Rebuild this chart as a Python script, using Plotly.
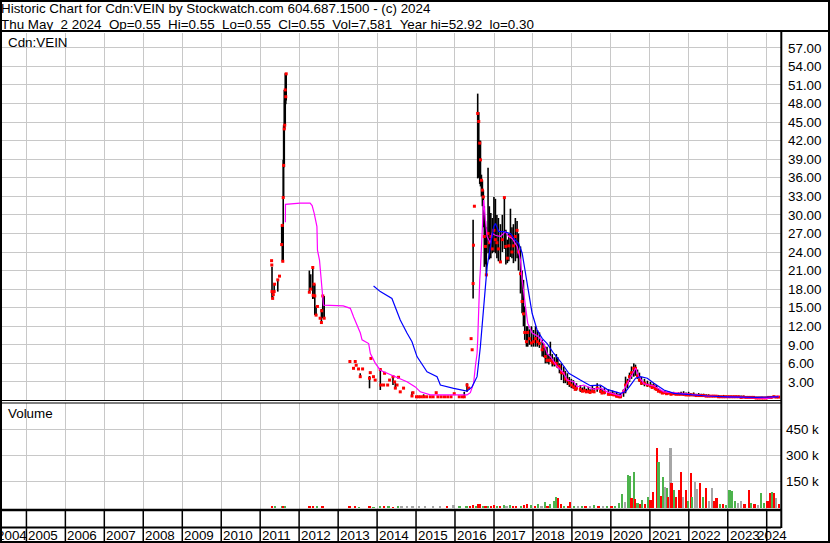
import plotly.graph_objects as go

# ---------------- data ----------------
years = list(range(2004, 2025))
year_labels = [str(y) for y in years]

header_line1 = "Historic Chart for Cdn:VEIN by Stockwatch.com 604.687.1500 - (c) 2024"
header_line2 = "Thu May  2 2024  Op=0.55  Hi=0.55  Lo=0.55  Cl=0.55  Vol=7,581  Year hi=52.92  lo=0.30"
symbol_label = "Cdn:VEIN"
volume_label = "Volume"

# price bars: date, high, low, close
bar_dates = [
    "2011-04-18", "2011-04-20", "2011-04-22", "2011-04-28", "2011-05-04", "2011-05-12", "2011-05-16", "2011-06-15", "2011-07-01",
    "2011-07-22", "2011-07-27", "2011-08-01", "2011-08-05", "2011-08-09", "2011-08-15", "2011-08-19", "2011-08-24", "2011-08-29", "2011-09-02",
    "2012-04-06", "2012-04-19", "2012-05-08", "2012-05-12", "2012-05-20", "2012-05-27", "2012-06-08", "2012-06-21", "2012-07-16", "2012-07-28", "2012-07-31", "2012-08-10", "2012-08-23",
    "2013-04-21", "2013-05-25", "2013-06-10", "2013-06-19", "2013-07-11", "2013-07-27", "2013-08-18", "2013-10-22", "2013-10-29", "2013-11-04", "2013-11-28", "2013-12-14",
    "2014-01-31", "2014-02-05", "2014-03-03", "2014-03-12", "2014-04-10", "2014-04-28", "2014-05-30", "2014-06-14", "2014-06-21", "2014-07-07", "2014-07-21", "2014-08-06", "2014-09-06", "2014-11-24", "2014-12-03",
    "2015-01-05", "2015-01-25", "2015-02-15", "2015-03-13", "2015-04-10", "2015-05-15", "2015-06-10", "2015-07-09", "2015-07-25", "2015-08-25", "2015-09-25", "2015-10-25", "2015-11-25", "2015-12-25",
    "2016-02-10", "2016-03-10", "2016-03-28", "2016-04-23", "2016-05-08", "2016-05-31", "2016-06-10", "2016-06-19", "2016-06-22", "2016-07-01",
    "2016-08-01", "2016-08-11", "2016-08-20", "2016-08-27", "2016-09-05", "2016-09-14", "2016-09-23", "2016-10-02", "2016-10-12", "2016-10-21",
    "2016-11-06", "2016-11-18", "2016-12-02", "2016-12-16", "2016-12-31",
    "2017-01-14", "2017-01-28", "2017-02-11", "2017-03-02", "2017-03-20", "2017-04-08", "2017-04-22", "2017-05-06", "2017-05-20", "2017-06-04",
    "2017-06-18", "2017-07-02", "2017-07-20", "2017-08-05", "2017-08-18", "2017-09-06", "2017-09-21", "2017-10-04", "2017-10-16", "2017-11-01",
    "2017-11-13", "2017-11-29", "2017-12-18",
    "2018-01-06", "2018-01-25", "2018-02-12", "2018-03-03", "2018-03-28", "2018-04-12", "2018-04-27", "2018-05-13", "2018-05-30", "2018-06-13",
    "2018-07-01", "2018-07-20", "2018-08-08", "2018-08-22", "2018-09-06", "2018-09-24", "2018-10-16", "2018-11-01", "2018-11-20", "2018-12-08", "2018-12-27",
    "2019-01-15", "2019-02-13", "2019-03-21", "2019-04-28", "2019-06-04", "2019-07-12", "2019-08-26", "2019-09-26", "2019-11-02", "2019-12-09",
    "2020-01-16", "2020-02-23", "2020-04-01", "2020-04-29", "2020-05-18", "2020-06-06", "2020-06-24", "2020-07-13", "2020-08-03", "2020-08-19",
    "2020-09-07", "2020-09-25", "2020-10-14", "2020-11-11", "2020-12-09",
    "2021-01-07", "2021-02-05", "2021-03-05", "2021-04-11", "2021-05-19", "2021-06-25", "2021-08-11", "2021-09-27", "2021-11-13", "2021-12-30",
    "2022-02-15", "2022-04-03", "2022-05-19", "2022-07-05", "2022-08-21", "2022-10-07", "2022-11-23",
    "2023-01-09", "2023-02-25", "2023-04-13", "2023-05-29", "2023-07-15", "2023-08-31", "2023-10-17", "2023-12-03",
    "2024-01-19", "2024-03-07", "2024-04-22",
    # extra sessions filling the low-price years
    "2019-02-01", "2019-04-10", "2019-05-15", "2019-06-20", "2019-07-28", "2019-10-10", "2019-12-25", "2020-01-30", "2020-03-05", "2020-03-20",
    "2021-01-22", "2021-02-20", "2021-03-22", "2021-04-28", "2021-06-06", "2021-07-18", "2021-09-03", "2021-10-20", "2021-12-06", "2022-01-20",
    "2022-03-10", "2022-04-27", "2022-06-12", "2022-07-29", "2022-09-14", "2022-10-30", "2022-12-16", "2023-02-01", "2023-03-20", "2023-05-06",
    "2023-06-22", "2023-08-08", "2023-09-24", "2023-11-10", "2023-12-27", "2024-02-12", "2024-03-30",
]
bar_high = [
    22.6, 21.9, 21.6, 17.6, 17.1, 18.8, 18.8, 19.5, 20.1,
    28.3, 28.3, 25.0, 38.9, 44.5, 50.2, 48.5, 52.9, 52.9, 52.9,
    21.0, 20.4, 21.6, 17.0, 18.8, 18.8, 15.2, 15.2, 13.3, 14.8, 14.5, 16.9, 16.9,
    6.3, 5.2, 6.3, 5.7, 5.1, 4.4, 5.1, 3.96, 4.5, 6.8, 3.85, 3.3,
    5.2, 2.5, 2.5, 4.4, 2.5, 3.3, 3.85, 3.0, 2.8, 2.5, 3.75, 1.4, 2.0, 1.4, 1.26,
    0.6, 0.6, 0.6, 1.0, 0.6, 0.6, 0.6, 1.26, 0.6, 0.6, 0.6, 0.6, 0.6, 1.1,
    0.6, 0.6, 1.4, 2.8, 2.0, 10.0, 8.2, 29.2, 25.1, 31.4,
    49.6, 46.6, 42.0, 42.0, 36.5, 35.6, 34.0, 31.4, 29.0, 28.0,
    37.6, 31.4, 30.3, 29.5, 32.9,
    32.6, 30.0, 29.5, 28.5, 30.0, 32.9, 27.6, 26.0, 27.0, 31.0,
    28.0, 28.5, 29.5, 29.0, 27.0, 24.9, 21.0, 19.5, 15.2, 12.0,
    12.0, 11.5, 12.0,
    11.4, 12.0, 11.4, 11.0, 9.8, 9.2, 8.7, 8.7, 7.5, 9.5,
    7.5, 7.0, 7.5, 7.0, 6.0, 6.0, 5.5, 4.8, 4.4, 3.8, 3.5,
    3.3, 2.8, 2.5, 2.3, 2.2, 2.5, 2.8, 2.4, 2.0, 1.8,
    1.6, 1.4, 1.2, 1.8, 3.85, 3.5, 4.5, 5.5, 6.0, 5.8,
    5.0, 4.5, 3.8, 3.5, 3.2,
    3.0, 2.8, 2.5, 1.7, 1.6, 1.5, 1.4, 1.3, 1.5, 1.4,
    1.3, 1.2, 1.1, 1.0, 0.9, 0.9, 0.9,
    0.8, 0.8, 0.8, 0.8, 0.7, 0.7, 0.6, 0.6,
    0.7, 0.8, 0.7,
    2.6, 2.1, 1.9, 1.8, 2.0, 1.9, 1.4, 1.3, 1.1, 1.0,
    2.6, 2.4, 2.0, 1.5, 1.4, 1.3, 1.2, 1.4, 1.3, 1.2,
    1.1, 1.1, 1.0, 0.9, 0.9, 0.8, 0.8, 0.8, 0.8, 0.8,
    0.7, 0.7, 0.6, 0.6, 0.6, 0.7, 0.7,
]
bar_low = [
    22.6, 21.9, 16.5, 16.5, 17.1, 17.6, 18.8, 17.6, 20.1,
    25.0, 22.5, 22.5, 22.5, 32.8, 37.7, 43.9, 44.5, 47.9, 48.5,
    17.5, 17.9, 16.4, 16.5, 16.9, 13.8, 13.8, 15.2, 13.3, 12.6, 14.5, 13.3, 13.3,
    6.3, 5.2, 6.3, 5.7, 5.1, 3.85, 5.1, 1.97, 4.5, 6.8, 3.85, 3.3,
    1.7, 2.5, 2.5, 4.4, 2.5, 3.3, 2.5, 3.0, 2.0, 2.5, 3.75, 1.4, 2.0, 0.6, 1.26,
    0.6, 0.6, 0.6, 0.6, 0.6, 0.6, 0.6, 1.26, 0.6, 0.6, 0.6, 0.6, 0.6, 1.1,
    0.6, 0.6, 0.6, 1.4, 2.0, 10.0, 8.2, 16.5, 25.1, 31.4,
    35.9, 36.0, 35.0, 34.6, 33.0, 31.4, 28.0, 21.6, 22.0, 20.3,
    23.8, 22.8, 23.0, 23.8, 24.0,
    23.8, 23.0, 22.5, 22.4, 24.0, 24.5, 22.0, 22.2, 22.5, 23.2,
    23.0, 22.2, 22.5, 23.0, 21.0, 17.3, 14.1, 12.0, 9.8, 8.7,
    8.7, 9.0, 8.7,
    8.7, 8.7, 8.7, 8.5, 7.1, 7.0, 6.0, 6.0, 5.8, 6.3,
    5.5, 5.5, 5.5, 5.2, 4.4, 3.3, 2.8, 2.8, 2.5, 2.2, 2.0,
    1.9, 1.6, 1.4, 1.4, 1.2, 1.3, 1.4, 1.2, 1.0, 0.9,
    0.8, 0.6, 0.5, 0.6, 1.16, 2.0, 3.0, 3.5, 3.85, 4.0,
    3.5, 3.0, 2.5, 2.3, 2.2,
    2.2, 2.0, 1.6, 1.2, 1.1, 1.0, 0.9, 0.9, 0.8, 0.8,
    0.7, 0.7, 0.7, 0.6, 0.6, 0.5, 0.5,
    0.5, 0.5, 0.5, 0.45, 0.4, 0.4, 0.3, 0.3,
    0.35, 0.45, 0.5,
    1.7, 1.4, 1.3, 1.2, 1.3, 1.1, 0.9, 0.8, 0.6, 0.5,
    2.0, 1.8, 1.4, 1.1, 1.0, 0.9, 0.9, 0.9, 0.8, 0.8,
    0.7, 0.7, 0.6, 0.6, 0.6, 0.5, 0.5, 0.5, 0.5, 0.45,
    0.4, 0.4, 0.35, 0.3, 0.3, 0.4, 0.45,
]
bar_close = [
    22.6, 21.9, 17.6, 16.5, 17.1, 17.6, 18.8, 19.5, 20.1,
    25.2, 28.3, 22.5, 32.8, 38.0, 43.9, 44.5, 50.2, 49.1, 52.8,
    17.5, 18.0, 21.5, 17.0, 18.8, 16.9, 13.8, 15.2, 13.3, 12.6, 14.5, 16.9, 13.3,
    6.3, 5.2, 6.3, 5.7, 5.1, 3.85, 5.1, 3.6, 4.5, 6.8, 3.85, 3.3,
    5.0, 2.5, 2.5, 4.4, 2.5, 3.3, 3.85, 3.0, 2.0, 2.5, 3.75, 1.4, 2.0, 0.73, 1.26,
    0.6, 0.6, 0.6, 0.6, 0.6, 0.6, 0.6, 1.26, 0.6, 0.6, 0.6, 0.6, 0.6, 1.1,
    0.6, 0.6, 0.6, 2.5, 2.0, 10.0, 8.2, 18.9, 25.1, 31.4,
    46.4, 45.1, 41.6, 38.9, 35.6, 34.0, 32.9, 26.5, 24.9, 20.3,
    27.0, 25.5, 26.5, 24.5, 27.5,
    26.0, 25.5, 24.5, 22.4, 26.0, 32.8, 24.9, 23.0, 25.0, 26.5,
    24.0, 25.0, 26.5, 27.5, 24.0, 20.5, 16.0, 14.0, 11.0, 9.5,
    11.0, 10.0, 9.3,
    9.5, 10.0, 9.5, 9.2, 8.2, 8.7, 7.1, 6.5, 6.5, 6.5,
    6.2, 6.0, 6.0, 5.5, 5.5, 4.5, 4.4, 3.5, 3.3, 2.8, 2.5,
    2.2, 2.0, 1.8, 1.6, 1.5, 1.5, 2.0, 1.5, 1.3, 1.0,
    1.0, 0.7, 0.6, 1.4, 2.5, 3.0, 3.85, 4.5, 5.2, 5.2,
    4.0, 3.3, 2.8, 2.8, 2.5,
    2.34, 2.3, 1.8, 1.4, 1.26, 1.2, 1.1, 1.0, 1.0, 0.9,
    0.9, 0.8, 0.8, 0.7, 0.7, 0.6, 0.6,
    0.6, 0.6, 0.6, 0.55, 0.5, 0.5, 0.4, 0.4,
    0.5, 0.6, 0.55,
    1.8, 1.5, 1.4, 1.3, 1.4, 1.2, 1.0, 0.9, 0.7, 0.6,
    2.1, 1.9, 1.5, 1.2, 1.1, 1.0, 1.0, 1.0, 0.9, 0.9,
    0.8, 0.8, 0.7, 0.7, 0.7, 0.6, 0.6, 0.6, 0.6, 0.5,
    0.5, 0.5, 0.4, 0.4, 0.4, 0.5, 0.55,
]

# short moving average (magenta)
ma_short_dates = [
    "2011-08-25", "2011-08-26", "2012-01-10", "2012-04-13", "2012-05-02", "2012-05-21", "2012-06-16", "2012-06-21",
    "2012-07-10", "2012-07-23", "2012-08-04", "2012-08-16", "2013-02-18", "2013-04-25", "2013-05-26", "2013-06-27",
    "2013-07-28", "2013-08-13", "2013-10-14", "2013-10-30", "2013-12-16", "2014-01-31", "2014-04-04", "2014-07-07",
    "2014-10-08", "2014-12-25", "2015-02-10", "2015-05-15", "2016-04-23", "2016-05-24", "2016-06-09", "2016-06-24",
    "2016-07-10", "2016-07-26", "2016-08-01", "2016-08-10", "2016-08-20", "2016-08-26", "2016-09-11", "2016-09-26",
    "2016-10-12", "2016-10-28", "2016-11-28", "2016-12-14", "2017-01-14", "2017-03-02", "2017-04-18", "2017-05-19",
    "2017-06-20", "2017-08-06", "2017-09-06", "2017-09-22", "2017-10-23", "2017-11-13", "2017-12-24", "2018-02-24",
    "2018-04-12", "2018-05-14", "2018-06-14", "2018-08-16", "2018-10-17", "2018-11-17", "2019-01-18", "2019-02-19",
    "2019-04-22", "2019-07-25", "2019-09-26", "2019-11-27", "2020-04-01", "2020-05-18", "2020-07-04", "2020-08-20",
    "2020-09-20", "2020-11-06", "2021-02-08", "2021-05-13", "2021-10-16", "2022-06-23", "2023-05-01", "2024-01-07",
    "2024-04-25",
]
ma_short_vals = [
    28.8, 31.7, 31.9, 31.9, 31.5, 30.3, 28.1, 24.3,
    22.7, 20.0, 17.3, 15.4, 15.3, 14.9, 13.5, 12.2,
    10.9, 9.8, 9.2, 7.6, 6.0, 4.9, 4.4, 3.75,
    3.04, 2.2, 1.4, 0.9, 0.9, 1.26, 2.2, 2.8,
    5.5, 7.6, 9.8, 15.7, 19.5, 21.1, 27.6, 32.4,
    29.2, 26.5, 25.4, 27.0, 26.7, 26.5, 27.3, 26.5,
    26.2, 24.9, 22.7, 19.5, 15.2, 12.5, 10.9, 10.3,
    9.2, 7.6, 7.1, 5.5, 4.4, 3.3, 3.04, 2.2,
    2.5, 1.8, 2.0, 1.4, 0.73, 2.2, 3.85, 5.2,
    3.85, 2.7, 2.34, 1.4, 1.16, 0.73, 0.5, 0.35,
    0.73,
]

# long moving average (blue)
ma_long_dates = [
    "2013-11-29", "2014-01-31", "2014-05-20", "2014-08-06", "2014-10-08", "2014-11-24", "2015-01-10", "2015-04-14",
    "2015-07-17", "2015-08-17", "2015-12-20", "2016-04-23", "2016-06-09", "2016-07-26", "2016-08-26", "2016-09-21",
    "2016-10-12", "2016-10-28", "2016-11-28", "2016-12-29", "2017-01-14", "2017-02-14", "2017-04-02", "2017-06-04",
    "2017-07-20", "2017-08-20", "2017-09-22", "2017-10-23", "2017-11-23", "2017-12-24", "2018-02-09", "2018-03-28",
    "2018-05-14", "2018-07-15", "2018-09-16", "2018-12-03", "2019-03-21", "2019-06-23", "2019-09-26", "2019-11-27",
    "2020-04-01", "2020-05-18", "2020-07-04", "2020-08-20", "2020-10-06", "2020-12-08", "2021-02-08", "2021-05-13",
    "2021-08-15", "2022-01-18", "2022-06-23", "2022-12-28", "2023-10-05", "2024-03-09", "2024-04-22",
]
ma_long_vals = [
    18.5, 17.6, 16.5, 13.0, 10.9, 9.5, 7.1, 4.65,
    3.85, 2.5, 1.97, 1.5, 2.2, 3.85, 8.7, 14.1,
    18.4, 21.6, 24.9, 28.1, 28.6, 27.3, 27.3, 27.0,
    25.9, 25.4, 23.8, 20.6, 17.3, 14.1, 11.4, 10.05,
    9.2, 7.6, 6.3, 4.4, 3.3, 2.4, 2.5, 1.8,
    1.16, 1.4, 2.5, 3.6, 3.85, 3.6, 2.8, 1.7,
    1.16, 0.9, 0.73, 0.6, 0.5, 0.6, 0.6,
]

# volume (thousands of shares) and day direction: u = up, d = down, f = unchanged
vol_dates = [
    "2011-04-25", "2011-05-20", "2011-07-25", "2011-08-10", "2011-08-25",
    "2012-04-10", "2012-05-15", "2012-06-20", "2012-08-10",
    "2013-04-20", "2013-06-10", "2013-07-20", "2013-10-25", "2013-11-30",
    "2014-02-01", "2014-03-10", "2014-04-20", "2014-06-01", "2014-07-15", "2014-08-20", "2014-10-10", "2014-12-01",
    "2015-02-01", "2015-04-01", "2015-06-10", "2015-08-15", "2015-10-20", "2015-12-20",
    "2016-02-15", "2016-04-20", "2016-05-25", "2016-06-20", "2016-07-15", "2016-08-05", "2016-08-25", "2016-09-20", "2016-10-15", "2016-11-10", "2016-12-05",
    "2017-01-05", "2017-02-01", "2017-03-01", "2017-04-05", "2017-05-01", "2017-06-01", "2017-07-01", "2017-08-01", "2017-09-10", "2017-10-10", "2017-11-10", "2017-12-15",
    "2018-01-20", "2018-02-20", "2018-03-25", "2018-04-25", "2018-05-20", "2018-06-15", "2018-07-20", "2018-08-10", "2018-08-25", "2018-09-20", "2018-10-20", "2018-11-25", "2018-12-20",
    "2019-01-25", "2019-03-01", "2019-04-05", "2019-05-10", "2019-06-20", "2019-08-01", "2019-09-10", "2019-10-20", "2019-12-01",
    "2020-01-10", "2020-02-15", "2020-03-20", "2020-04-20", "2020-05-15", "2020-06-15", "2020-07-01", "2020-07-15", "2020-08-05", "2020-08-20", "2020-09-10", "2020-10-05", "2020-10-25", "2020-11-20", "2020-12-15",
    "2021-01-10", "2021-02-05", "2021-03-10", "2021-03-25", "2021-04-15", "2021-05-05", "2021-05-25", "2021-06-10", "2021-06-25", "2021-07-15", "2021-07-25", "2021-08-15", "2021-09-05", "2021-10-01", "2021-10-20", "2021-11-10", "2021-12-05", "2021-12-25",
    "2022-01-20", "2022-02-05", "2022-03-01", "2022-03-20", "2022-04-15", "2022-05-15", "2022-06-10", "2022-07-10", "2022-08-05", "2022-08-25", "2022-09-20", "2022-10-20", "2022-11-20", "2022-12-20",
    "2023-01-20", "2023-02-10", "2023-03-10", "2023-04-10", "2023-05-10", "2023-06-10", "2023-07-20", "2023-08-10", "2023-09-10", "2023-10-10", "2023-11-10", "2023-12-10",
    "2024-01-10", "2024-02-05", "2024-02-20", "2024-03-10", "2024-04-01", "2024-04-25",
]
vol_thousands = [
    6, 8, 10, 8, 7,
    7, 8, 6, 7,
    6, 8, 5, 7, 5,
    9, 6, 7, 5, 9, 11, 8, 9,
    8, 7, 6, 9, 10, 17,
    6, 12, 8, 15, 8, 24, 22, 10, 12, 14, 8,
    18, 12, 10, 16, 12, 18, 10, 12, 14, 18, 22, 16,
    12, 20, 10, 35, 14, 20, 42, 60, 55, 22, 12, 8, 36,
    12, 8, 14, 10, 8, 18, 10, 14, 12,
    8, 12, 30, 80, 36, 188, 182, 55, 205, 50, 30, 20, 45, 25, 64,
    45, 90, 340, 264, 70, 179, 121, 114, 60, 340, 141, 100, 60, 102, 207, 60, 102, 40,
    198, 60, 150, 110, 141, 60, 112, 40, 112, 40, 55, 25, 20, 15,
    103, 97, 40, 30, 40, 25, 103, 30, 20, 15, 84, 30,
    40, 84, 91, 84, 55, 25,
]
vol_dir = [
    "d", "u", "u", "d", "u",
    "d", "d", "u", "d",
    "d", "d", "u", "d", "u",
    "u", "d", "u", "d", "u", "f", "f", "f",
    "f", "f", "f", "f", "d", "f",
    "u", "u", "d", "d", "u", "d", "d", "u", "d", "u", "d",
    "d", "u", "d", "u", "f", "u", "d", "d", "u", "d", "d", "u",
    "d", "u", "f", "u", "d", "u", "u", "u", "d", "d", "u", "d", "d",
    "u", "f", "u", "d", "f", "u", "d", "f", "u",
    "d", "u", "u", "u", "f", "u", "u", "d", "u", "d", "u", "d", "u", "d", "u",
    "d", "d", "d", "u", "d", "u", "f", "u", "d", "f", "d", "u", "d", "d", "d", "f", "d", "u",
    "d", "u", "f", "f", "d", "u", "d", "f", "f", "d", "d", "u", "d", "u",
    "u", "u", "u", "f", "f", "d", "d", "u", "d", "f", "u", "u",
    "d", "d", "u", "d", "f", "d",
]

price_tick_step = 3
vol_tick_vals = [150, 300, 450]
vol_tick_text = ["150 k", "300 k", "450 k"]

# ---------------- styling / layout helpers ----------------
W, H = 830, 543
ML, MR, MT, MB = 2, 49, 33, 34
PW, PH = W - ML - MR, H - MT - MB


def xf(px):
    return (px - ML) / PW


def yf(py):
    return (H - MB - py) / PH


FONT = "Liberation Sans, Arial, sans-serif"
FS = 13.4
GRID = "#c8c8c8"
dir_colors = {"u": "#4cb34c", "d": "#ff0000", "f": "#a6a6a6"}

fig = go.Figure()

# high-low bars
fig.add_trace(go.Scatter(
    x=bar_dates, y=bar_low, mode="markers",
    marker=dict(size=1, opacity=0),
    error_y=dict(type="data", symmetric=False,
                 array=[h - l for h, l in zip(bar_high, bar_low)],
                 arrayminus=[0] * len(bar_low),
                 width=0, thickness=1.6, color="black"),
    hoverinfo="skip", xaxis="x", yaxis="y"))
# closes
fig.add_trace(go.Scatter(
    x=bar_dates, y=bar_close, mode="markers",
    marker=dict(symbol="square", size=3, color="#ff0000", line=dict(width=0)),
    xaxis="x", yaxis="y"))
# moving averages
fig.add_trace(go.Scatter(x=ma_short_dates, y=ma_short_vals, mode="lines",
                         line=dict(color="#ff00ff", width=1.2), xaxis="x", yaxis="y"))
fig.add_trace(go.Scatter(x=ma_long_dates, y=ma_long_vals, mode="lines",
                         line=dict(color="#0000ff", width=1.2), xaxis="x", yaxis="y"))
# volume
fig.add_trace(go.Bar(x=vol_dates, y=vol_thousands,
                     marker=dict(color=[dir_colors[d] for d in vol_dir], line=dict(width=0)),
                     width=16 * 86400000, xaxis="x2", yaxis="y2"))

year_ticks = [f"{y}-01-01" for y in years[1:]]
xcommon = dict(type="date", range=["2004-05-17", "2024-05-14"], tickvals=year_ticks,
               showticklabels=False, showgrid=True, gridcolor=GRID, gridwidth=1,
               zeroline=False, showline=False, ticks="")

fig.update_layout(
    width=W, height=H,
    margin=dict(l=ML, r=MR, t=MT, b=MB, pad=0),
    paper_bgcolor="white", plot_bgcolor="white",
    showlegend=False, bargap=0,
    font=dict(family=FONT, size=FS, color="black"),
    xaxis=dict(domain=[0, 1], anchor="y", **xcommon),
    xaxis2=dict(domain=[0, 1], anchor="y2", matches="x", **xcommon),
    yaxis=dict(domain=[yf(400), 1], range=[0.08, 59.4], side="right",
               tick0=0, dtick=price_tick_step, tickformat=".2f",
               showgrid=True, gridcolor=GRID, zeroline=False, showline=False, ticks="",
               ticklabelstandoff=6, tickfont=dict(family=FONT, size=FS, color="black")),
    yaxis2=dict(domain=[0, yf(403)], range=[-5.7, 598.9], side="right",
                tickvals=vol_tick_vals, ticktext=vol_tick_text,
                showgrid=True, gridcolor=GRID, zeroline=False, showline=False, ticks="",
                ticklabelstandoff=4, tickfont=dict(family=FONT, size=FS, color="black")),
)

shapes = []
# outer frame
shapes.append(dict(type="rect", xref="paper", yref="paper", x0=xf(1), x1=xf(829), y0=yf(542), y1=yf(1),
                   line=dict(color="black", width=2), fillcolor="rgba(0,0,0,0)"))
# header separator
shapes.append(dict(type="line", xref="paper", yref="paper", x0=xf(0), x1=xf(830), y0=yf(31), y1=yf(31),
                   line=dict(color="black", width=2)))
# axis column separator
shapes.append(dict(type="line", xref="paper", yref="paper", x0=xf(781.3), x1=xf(781.3), y0=yf(528), y1=yf(31),
                   line=dict(color="black", width=2)))
# double line between panels
for py in (400.5, 403):
    shapes.append(dict(type="line", xref="paper", yref="paper", x0=xf(0), x1=xf(781), y0=yf(py), y1=yf(py),
                       line=dict(color="black", width=1.2)))
# bottom of volume panel and date rows
shapes.append(dict(type="line", xref="paper", yref="paper", x0=xf(0), x1=xf(781), y0=yf(510), y1=yf(510),
                   line=dict(color="black", width=2.5)))
shapes.append(dict(type="line", xref="paper", yref="paper", x0=xf(0), x1=xf(781), y0=yf(527.5), y1=yf(527.5),
                   line=dict(color="black", width=2)))
for d in year_ticks:
    shapes.append(dict(type="line", xref="x", yref="paper", x0=d, x1=d, y0=yf(542), y1=yf(511),
                       line=dict(color="black", width=1.5)))
fig.update_layout(shapes=shapes)

nb = lambda s: s.replace("  ", "\u00a0\u00a0")
ann = []
ann.append(dict(text=nb(header_line1), xref="paper", yref="paper", x=xf(-1), y=yf(9),
                xanchor="left", yanchor="middle", showarrow=False, font=dict(family=FONT, size=FS, color="black")))
ann.append(dict(text=nb(header_line2), xref="paper", yref="paper", x=xf(-1), y=yf(24),
                xanchor="left", yanchor="middle", showarrow=False, font=dict(family=FONT, size=FS, color="black")))
ann.append(dict(text=symbol_label, xref="paper", yref="paper", x=xf(6), y=yf(42),
                xanchor="left", yanchor="middle", showarrow=False, font=dict(family=FONT, size=FS, color="black")))
ann.append(dict(text=volume_label, xref="paper", yref="paper", x=xf(6), y=yf(413),
                xanchor="left", yanchor="middle", showarrow=False, font=dict(family=FONT, size=FS, color="black")))
for y, lab in zip(years, year_labels):
    if y == years[0]:
        # first label is pushed against the left edge
        ann.append(dict(text=lab, xref="paper", yref="paper", x=xf(-5), y=yf(535),
                        xanchor="left", yanchor="middle", showarrow=False,
                        font=dict(family=FONT, size=FS, color="black")))
    elif y == years[-1]:
        # last label is pulled back so it ends at the axis column
        ann.append(dict(text=lab, xref="paper", yref="paper", x=xf(789), y=yf(535),
                        xanchor="right", yanchor="middle", showarrow=False,
                        font=dict(family=FONT, size=FS, color="black")))
    else:
        ann.append(dict(text=lab, xref="x", yref="paper", x=f"{y}-01-01", y=yf(535),
                        xanchor="left", yanchor="middle", showarrow=False,
                        font=dict(family=FONT, size=FS, color="black")))
fig.update_layout(annotations=ann)

fig.write_html(
    "out.html",
    config={"displayModeBar": False, "responsive": False},
    post_script="document.body.style.margin='0';document.body.style.padding='0';"
                "document.body.style.overflow='hidden';",
)
